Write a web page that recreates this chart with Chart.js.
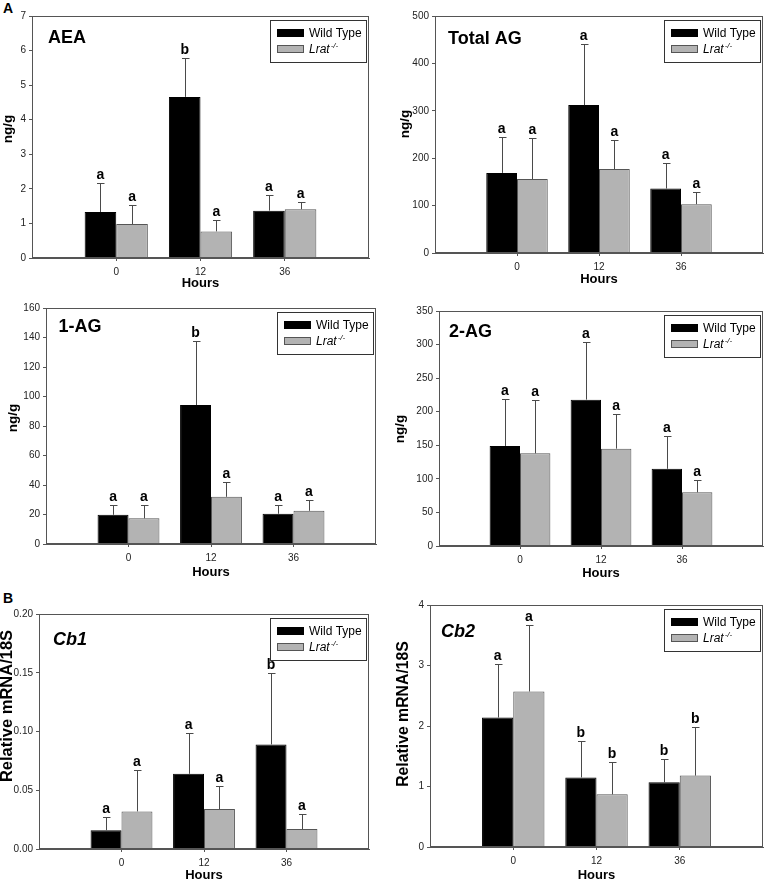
<!DOCTYPE html>
<html><head><meta charset="utf-8">
<script src="https://cdn.jsdelivr.net/npm/chart.js@4.4.1/dist/chart.umd.min.js"></script>
<style>
html,body{margin:0;padding:0;background:#fff}
body{width:768px;height:882px;position:relative;overflow:hidden;font-family:'Liberation Sans',Arial,sans-serif}
canvas{position:absolute}
.lab{position:absolute;font-weight:bold;font-size:14px;line-height:14px;color:#000}
</style></head><body>
<div class="lab" style="left:3px;top:1px">A</div>
<div class="lab" style="left:3px;top:591px">B</div>
<script>
// ---- data ----
const hours = ['0', '12', '36'];
const seriesNames = ['Wild Type', 'Lrat'];

const aeaWT = [1.33, 4.66, 1.37];
const aeaWTErr = [0.84, 1.13, 0.44];
const aeaKO = [0.98, 0.77, 1.41];
const aeaKOErr = [0.54, 0.33, 0.22];
const aeaWTLetters = ['a', 'b', 'a'];
const aeaKOLetters = ['a', 'a', 'a'];

const totalWT = [169, 312, 136];
const totalWTErr = [75, 129, 53];
const totalKO = [156, 177, 103];
const totalKOErr = [87, 61, 25];
const totalWTLetters = ['a', 'a', 'a'];
const totalKOLetters = ['a', 'a', 'a'];

const ag1WT = [19.8, 94.2, 20.5];
const ag1WTErr = [6.6, 43.7, 5.9];
const ag1KO = [17.4, 32.0, 22.5];
const ag1KOErr = [9.0, 9.7, 7.0];
const ag1WTLetters = ['a', 'b', 'a'];
const ag1KOLetters = ['a', 'a', 'a'];

const ag2WT = [149, 218, 115];
const ag2WTErr = [70, 86, 49];
const ag2KO = [138, 145, 80];
const ag2KOErr = [80, 52, 19];
const ag2WTLetters = ['a', 'a', 'a'];
const ag2KOLetters = ['a', 'a', 'a'];

const cb1WT = [0.016, 0.064, 0.089];
const cb1WTErr = [0.011, 0.035, 0.061];
const cb1KO = [0.032, 0.034, 0.017];
const cb1KOErr = [0.035, 0.020, 0.013];
const cb1WTLetters = ['a', 'a', 'b'];
const cb1KOLetters = ['a', 'a', 'a'];

const cb2WT = [2.14, 1.15, 1.07];
const cb2WTErr = [0.89, 0.60, 0.38];
const cb2KO = [2.57, 0.87, 1.18];
const cb2KOErr = [1.10, 0.53, 0.81];
const cb2WTLetters = ['a', 'b', 'b'];
const cb2KOLetters = ['a', 'b', 'b'];

const yMaxes = [7, 500, 160, 350, 0.20, 4];
const ySteps = [1, 100, 20, 50, 0.05, 1];

// ---- styles / layout ----
const FONT = "'Liberation Sans', Arial, sans-serif";
const AXIS = '#555555';
const GRAY = '#b3b3b3';

const panels = [
  {title:'AEA', italic:false, x:0, y:0, w:384, h:292, plot:[32,16,369,258], ytitle:'ng/g', ySize:13.5, yc:[8.5,129], xPad:2.5, tdx:16, tdy:27,
   wt:aeaWT, wtErr:aeaWTErr, ko:aeaKO, koErr:aeaKOErr, lw:aeaWTLetters, lk:aeaKOLetters, dec:0},
  {title:'Total AG', italic:false, x:384, y:0, w:384, h:292, plot:[435,16,766,253], ytitle:'ng/g', ySize:13.5, yc:[405.5,124], xPad:6.2, tdx:13, tdy:27.5,
   wt:totalWT, wtErr:totalWTErr, ko:totalKO, koErr:totalKOErr, lw:totalWTLetters, lk:totalKOLetters, dec:0},
  {title:'1-AG', italic:false, x:0, y:292, w:384, h:292, plot:[46,308,376,544], ytitle:'ng/g', ySize:13.5, yc:[13,418], xPad:4.8, tdx:12.6, tdy:24,
   wt:ag1WT, wtErr:ag1WTErr, ko:ag1KO, koErr:ag1KOErr, lw:ag1WTLetters, lk:ag1KOLetters, dec:0},
  {title:'2-AG', italic:false, x:384, y:292, w:384, h:292, plot:[439,311,766,546], ytitle:'ng/g', ySize:13.5, yc:[400,429], xPad:4.2, tdx:10, tdy:26,
   wt:ag2WT, wtErr:ag2WTErr, ko:ag2KO, koErr:ag2KOErr, lw:ag2WTLetters, lk:ag2KOLetters, dec:0},
  {title:'Cb1', italic:true, x:0, y:584, w:384, h:298, plot:[39,614,369,849], ytitle:'Relative mRNA/18S', ySize:16.5, yc:[7.5,706], xPad:0.5, tdx:14, tdy:30.7,
   wt:cb1WT, wtErr:cb1WTErr, ko:cb1KO, koErr:cb1KOErr, lw:cb1WTLetters, lk:cb1KOLetters, dec:2},
  {title:'Cb2', italic:true, x:384, y:584, w:384, h:298, plot:[430,605,766,847], ytitle:'Relative mRNA/18S', ySize:15.8, yc:[404,714], xPad:0.5, tdx:11, tdy:32,
   wt:cb2WT, wtErr:cb2WTErr, ko:cb2KO, koErr:cb2KOErr, lw:cb2WTLetters, lk:cb2KOLetters, dec:0}
];

function makePanel(p, idx) {
  const canvas = document.createElement('canvas');
  canvas.width = p.w; canvas.height = p.h;
  canvas.style.left = p.x + 'px'; canvas.style.top = p.y + 'px';
  canvas.style.width = p.w + 'px'; canvas.style.height = p.h + 'px';
  document.body.appendChild(canvas);
  const [pl, pt, pr, pb] = p.plot;
  const labels = ['', ...hours, ''];
  const pad = v => [null, ...v, null];
  const lastIdx = labels.length - 1;

  const extras = {
    id: 'extras' + idx,
    afterDatasetsDraw(chart) {
      const ctx = chart.ctx, ys = chart.scales.y, a = chart.chartArea;
      ctx.save();
      // frame
      ctx.strokeStyle = AXIS; ctx.lineWidth = 1;
      ctx.strokeRect(Math.round(a.left) + 0.5, Math.round(a.top) + 0.5,
                     Math.round(a.right - a.left) - 1, Math.round(a.bottom - a.top) - 1);
      // error bars + letters
      const sets = [[p.wtErr, p.lw], [p.koErr, p.lk]];
      sets.forEach(([errs, lets], di) => {
        const meta = chart.getDatasetMeta(di);
        const vals = chart.data.datasets[di].data;
        meta.data.forEach((bar, i) => {
          if (vals[i] == null) return;
          const e = errs[i - 1];
          const x = Math.round(bar.x) + 0.5;
          const y0 = ys.getPixelForValue(vals[i]);
          const y1 = Math.round(ys.getPixelForValue(vals[i] + e)) + 0.5;
          ctx.strokeStyle = '#4a4a4a'; ctx.lineWidth = 1;
          ctx.beginPath();
          ctx.moveTo(x, y0); ctx.lineTo(x, y1);
          ctx.moveTo(x - 3.5, y1); ctx.lineTo(x + 4, y1);
          ctx.stroke();
          ctx.fillStyle = '#000';
          ctx.font = 'bold 14px ' + FONT;
          ctx.textAlign = 'center'; ctx.textBaseline = 'alphabetic';
          ctx.fillText(lets[i - 1], bar.x, y1 - 5);
        });
      });
      // panel title
      ctx.fillStyle = '#000';
      ctx.font = (p.italic ? 'italic ' : '') + 'bold 18px ' + FONT;
      ctx.textAlign = 'left'; ctx.textBaseline = 'alphabetic';
      ctx.fillText(p.title, a.left + p.tdx, a.top + p.tdy);
      // y axis title
      ctx.save();
      ctx.translate(p.yc[0] - p.x, p.yc[1] - p.y);
      ctx.rotate(-Math.PI / 2);
      ctx.font = 'bold ' + p.ySize + 'px ' + FONT;
      ctx.textAlign = 'center'; ctx.textBaseline = 'middle';
      ctx.fillText(p.ytitle, 0, 0);
      ctx.restore();
      // legend
      const bw = 96, bh = 42;
      const bx = Math.round(a.right - 3.5 - bw), by = Math.round(a.top + 4);
      ctx.strokeStyle = '#333'; ctx.lineWidth = 1;
      ctx.strokeRect(bx + 0.5, by + 0.5, bw, bh);
      ctx.fillStyle = '#000';
      ctx.fillRect(bx + 7, by + 9, 27, 8);
      ctx.fillStyle = GRAY;
      ctx.fillRect(bx + 7, by + 25, 27, 8);
      ctx.strokeStyle = '#555';
      ctx.strokeRect(bx + 7.5, by + 25.5, 26, 7);
      ctx.fillStyle = '#000';
      ctx.textBaseline = 'middle';
      ctx.textAlign = 'left';
      ctx.font = '12px ' + FONT;
      ctx.fillText(seriesNames[0], bx + 39, by + 13.5);
      ctx.font = 'italic 12px ' + FONT;
      ctx.fillText(seriesNames[1], bx + 39, by + 29.5);
      const w = ctx.measureText(seriesNames[1]).width;
      ctx.font = 'italic 8px ' + FONT;
      ctx.fillText('-/-', bx + 40 + w, by + 25.5);
      ctx.restore();
    }
  };

  new Chart(canvas, {
    type: 'bar',
    data: {
      labels,
      datasets: [
        {label: seriesNames[0], data: pad(p.wt), backgroundColor: '#000', borderColor: '#000', borderWidth: 1,
         categoryPercentage: 0.75, barPercentage: 1.0},
        {label: seriesNames[1], data: pad(p.ko), backgroundColor: GRAY, borderColor: '#555', borderWidth: 1,
         categoryPercentage: 0.75, barPercentage: 1.0}
      ]
    },
    options: {
      responsive: false, animation: false, devicePixelRatio: 1,
      layout: {padding: {left: 0, top: pt - p.y, right: p.x + p.w - pr, bottom: 0}},
      plugins: {legend: {display: false}, tooltip: {enabled: false}},
      scales: {
        x: {
          type: 'category', offset: false,
          grid: {offset: false, drawOnChartArea: false, drawTicks: true, tickLength: 3,
                 color: c => (c.index === 0 || c.index === lastIdx) ? 'rgba(0,0,0,0)' : AXIS},
          border: {display: true, color: AXIS},
          ticks: {font: {size: 10, family: FONT}, color: '#222', padding: 5, autoSkip: false, maxRotation: 0},
          title: {display: true, text: 'Hours', color: '#000', font: {size: 13, weight: 'bold', family: FONT, lineHeight: 1},
                  padding: {top: 0, bottom: p.xPad}},
          afterFit: s => { s.height = p.y + p.h - pb; }
        },
        y: {
          min: 0, max: yMaxes[idx],
          grid: {drawOnChartArea: false, drawTicks: true, tickLength: 3, color: AXIS},
          border: {display: true, color: AXIS},
          ticks: {stepSize: ySteps[idx], font: {size: 10, family: FONT}, color: '#222', padding: 3,
                  callback: v => p.dec ? Number(v).toFixed(p.dec) : String(Math.round(v * 1000) / 1000)},
          title: {display: false},
          afterFit: s => { s.width = pl - p.x; }
        }
      }
    },
    plugins: [extras]
  });
}
panels.forEach(makePanel);
</script>
</body></html>
